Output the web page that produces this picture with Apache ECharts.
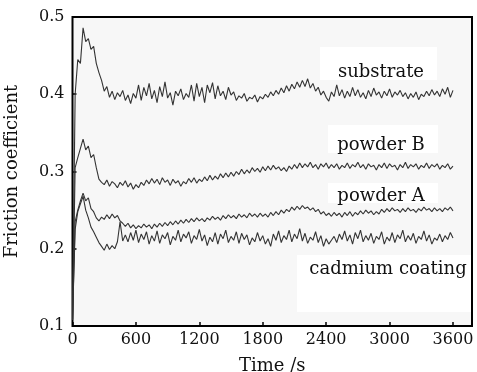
<!DOCTYPE html>
<html><head><meta charset="utf-8">
<script src="https://cdn.jsdelivr.net/npm/echarts@6/dist/echarts.min.js"></script>
<style>html,body{margin:0;padding:0;background:#fff}#c{width:477px;height:372px}</style>
</head><body><div id="c"></div>
<script>
var xTicks = [0, 600, 1200, 1800, 2400, 3000, 3600];
var yTicks = [0.1, 0.2, 0.3, 0.4, 0.5];
var time = [
0,25,50,75,100,125,150,175,200,225,
250,275,300,325,350,375,400,425,450,475,
500,525,550,575,600,625,650,675,700,725,
750,775,800,825,850,875,900,925,950,975,
1000,1025,1050,1075,1100,1125,1150,1175,1200,1225,
1250,1275,1300,1325,1350,1375,1400,1425,1450,1475,
1500,1525,1550,1575,1600,1625,1650,1675,1700,1725,
1750,1775,1800,1825,1850,1875,1900,1925,1950,1975,
2000,2025,2050,2075,2100,2125,2150,2175,2200,2225,
2250,2275,2300,2325,2350,2375,2400,2425,2450,2475,
2500,2525,2550,2575,2600,2625,2650,2675,2700,2725,
2750,2775,2800,2825,2850,2875,2900,2925,2950,2975,
3000,3025,3050,3075,3100,3125,3150,3175,3200,3225,
3250,3275,3300,3325,3350,3375,3400,3425,3450,3475,
3500,3525,3550,3575,3600];
var substrate = [
0.108,0.400,0.445,0.440,0.486,0.468,0.472,0.458,0.462,0.440,
0.428,0.418,0.404,0.410,0.396,0.404,0.393,0.402,0.397,0.405,
0.392,0.399,0.388,0.401,0.395,0.412,0.392,0.409,0.398,0.414,
0.394,0.405,0.389,0.410,0.397,0.416,0.395,0.402,0.386,0.404,
0.398,0.407,0.393,0.401,0.396,0.412,0.391,0.414,0.397,0.409,
0.389,0.412,0.402,0.415,0.394,0.411,0.398,0.404,0.393,0.409,
0.399,0.403,0.392,0.398,0.395,0.401,0.391,0.396,0.394,0.399,
0.390,0.397,0.394,0.400,0.396,0.403,0.398,0.405,0.400,0.408,
0.402,0.411,0.404,0.413,0.407,0.416,0.409,0.418,0.410,0.420,
0.408,0.414,0.404,0.409,0.399,0.404,0.396,0.391,0.403,0.397,
0.412,0.398,0.406,0.395,0.404,0.397,0.409,0.398,0.406,0.396,
0.402,0.394,0.405,0.397,0.408,0.399,0.403,0.395,0.404,0.398,
0.407,0.396,0.403,0.399,0.405,0.397,0.402,0.394,0.401,0.396,
0.403,0.393,0.400,0.397,0.404,0.398,0.406,0.399,0.404,0.397,
0.407,0.400,0.409,0.396,0.405];
var powderB = [
0.108,0.305,0.318,0.330,0.342,0.328,0.333,0.318,0.322,0.305,
0.290,0.286,0.283,0.289,0.281,0.287,0.284,0.279,0.286,0.282,
0.288,0.280,0.285,0.277,0.283,0.279,0.286,0.282,0.289,0.284,
0.291,0.285,0.290,0.283,0.292,0.286,0.289,0.282,0.290,0.285,
0.288,0.281,0.287,0.284,0.291,0.286,0.292,0.285,0.290,0.287,
0.293,0.288,0.295,0.289,0.294,0.290,0.297,0.292,0.298,0.293,
0.299,0.294,0.300,0.296,0.303,0.297,0.302,0.298,0.305,0.300,
0.304,0.299,0.306,0.301,0.307,0.302,0.308,0.303,0.306,0.301,
0.305,0.300,0.307,0.303,0.309,0.304,0.311,0.305,0.310,0.306,
0.312,0.305,0.309,0.303,0.310,0.306,0.311,0.304,0.309,0.305,
0.310,0.303,0.308,0.305,0.311,0.304,0.309,0.306,0.312,0.305,
0.309,0.303,0.310,0.306,0.308,0.302,0.309,0.305,0.311,0.304,
0.310,0.306,0.308,0.302,0.309,0.305,0.312,0.304,0.309,0.306,
0.310,0.303,0.308,0.305,0.311,0.304,0.309,0.306,0.310,0.303,
0.308,0.305,0.310,0.303,0.307];
var powderA = [
0.108,0.235,0.250,0.262,0.272,0.262,0.266,0.252,0.248,0.240,
0.236,0.241,0.238,0.244,0.239,0.245,0.240,0.243,0.236,0.233,
0.229,0.233,0.227,0.231,0.226,0.230,0.227,0.232,0.228,0.231,
0.226,0.232,0.228,0.233,0.229,0.234,0.230,0.235,0.231,0.236,
0.232,0.237,0.233,0.238,0.234,0.239,0.235,0.240,0.236,0.239,
0.235,0.240,0.237,0.242,0.238,0.241,0.237,0.243,0.239,0.244,
0.240,0.243,0.239,0.245,0.241,0.244,0.240,0.246,0.242,0.245,
0.241,0.246,0.242,0.245,0.241,0.247,0.243,0.248,0.244,0.250,
0.246,0.251,0.248,0.254,0.250,0.255,0.251,0.256,0.252,0.254,
0.250,0.253,0.248,0.251,0.245,0.248,0.243,0.246,0.242,0.247,
0.243,0.246,0.241,0.247,0.243,0.248,0.242,0.247,0.244,0.249,
0.245,0.250,0.246,0.249,0.244,0.248,0.245,0.251,0.247,0.252,
0.248,0.253,0.249,0.251,0.247,0.252,0.248,0.253,0.249,0.251,
0.247,0.252,0.249,0.254,0.250,0.252,0.248,0.253,0.249,0.252,
0.248,0.253,0.250,0.254,0.249];
var cadmium = [
0.108,0.225,0.248,0.258,0.268,0.250,0.240,0.228,0.222,0.215,
0.208,0.203,0.198,0.206,0.199,0.204,0.200,0.209,0.235,0.210,
0.218,0.209,0.221,0.211,0.224,0.208,0.219,0.212,0.222,0.206,
0.217,0.210,0.223,0.207,0.218,0.213,0.221,0.205,0.216,0.211,
0.224,0.209,0.219,0.214,0.222,0.207,0.217,0.212,0.225,0.210,
0.218,0.204,0.215,0.209,0.221,0.206,0.219,0.213,0.224,0.208,
0.216,0.211,0.222,0.207,0.220,0.212,0.218,0.205,0.214,0.209,
0.221,0.210,0.217,0.206,0.213,0.203,0.219,0.211,0.223,0.208,
0.217,0.212,0.224,0.209,0.219,0.213,0.226,0.210,0.220,0.207,
0.215,0.211,0.222,0.208,0.217,0.203,0.213,0.206,0.211,0.216,
0.208,0.219,0.212,0.223,0.210,0.218,0.206,0.221,0.213,0.224,
0.209,0.217,0.211,0.220,0.207,0.216,0.212,0.222,0.206,0.215,
0.210,0.221,0.208,0.218,0.213,0.224,0.209,0.217,0.211,0.220,
0.207,0.216,0.212,0.223,0.210,0.218,0.206,0.214,0.211,0.219,
0.209,0.217,0.212,0.221,0.214];
var seriesNames = ['substrate', 'powder B', 'powder A', 'cadmium coating'];

function pairs(vals){ return time.map(function(t,i){ return [t, vals[i]]; }); }
var FONT = 'DejaVu Serif';
var chart = echarts.init(document.getElementById('c'), null, {renderer:'canvas'});
function mkSeries(name, vals){
  return {name:name, type:'line', data:pairs(vals), showSymbol:false, symbol:'none',
    lineStyle:{color:'#333333', width:1.1}, z:2, animation:false};
}
function lbl(text, bx, by, bw, bh, tx, ty){
  return [
    {type:'rect', z:1, silent:true, shape:{x:bx, y:by, width:bw, height:bh}, style:{fill:'#ffffff'}},
    {type:'text', z:5, silent:true, x:tx, y:ty, style:{text:text, font:'18px "'+FONT+'"', fill:'#111', align:'center', verticalAlign:'middle'}}
  ];
}
var graphics = [].concat(
  lbl(seriesNames[0], 320, 47, 117, 33, 381, 72),
  lbl(seriesNames[1], 328, 125, 110, 28, 381, 145),
  lbl(seriesNames[2], 328, 183, 110, 20, 381, 196),
  lbl(seriesNames[3], 297, 255, 174, 57, 388, 269)
);
chart.setOption({
  backgroundColor:'#ffffff',
  animation:false,
  grid:{left:72.5, right:5, top:17, bottom:46, outerBoundsMode:'none', containLabel:false, show:true, backgroundColor:'#f7f7f7', borderColor:'#000', borderWidth:2},
  xAxis:{type:'value', min:0, max:3780, interval:600,
    name:'Time /s', nameLocation:'middle', nameGap:31,
    nameTextStyle:{fontFamily:FONT, fontSize:18, color:'#111'},
    axisLine:{show:false}, splitLine:{show:false},
    axisTick:{show:true, inside:true, length:4, lineStyle:{color:'#000', width:1.5}, customValues:xTicks},
    axisLabel:{fontFamily:FONT, fontSize:16, color:'#111', margin:6, customValues:xTicks,
      formatter:function(v){return String(v);}}},
  yAxis:{type:'value', min:0.1, max:0.5, interval:0.1,
    name:'Friction coefficient', nameLocation:'middle', nameGap:51,
    nameTextStyle:{fontFamily:FONT, fontSize:18, color:'#111'},
    axisLine:{show:false}, splitLine:{show:false},
    axisTick:{show:true, inside:true, length:4, lineStyle:{color:'#000', width:1.5}, customValues:yTicks},
    axisLabel:{fontFamily:FONT, fontSize:16, color:'#111', margin:8, customValues:yTicks,
      formatter:function(v){return v.toFixed(1);}}},
  series:[mkSeries(seriesNames[0], substrate), mkSeries(seriesNames[1], powderB), mkSeries(seriesNames[2], powderA), mkSeries(seriesNames[3], cadmium)],
  graphic:graphics
});
</script></body></html>
